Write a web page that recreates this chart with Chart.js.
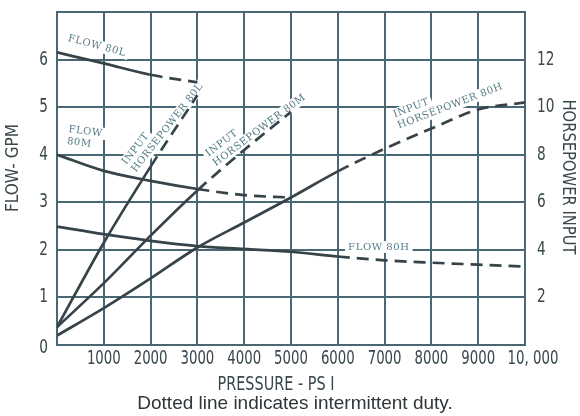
<!DOCTYPE html>
<html>
<head>
<meta charset="utf-8">
<script src="https://cdn.jsdelivr.net/npm/chart.js@4.4.0/dist/chart.umd.min.js"></script>
<style>
html, body { margin: 0; padding: 0; background: #fff; }
#wrap { width: 580px; height: 416px; }
</style>
</head>
<body>
<div id="wrap"><canvas id="myChart" width="580" height="416"></canvas></div>
<script>
// pressure steps (psi) shared by every curve
const psi = [0, 1000, 2000, 3000, 4000, 5000, 6000, 7000, 8000, 9000, 10000];

// flow, gpm (left axis)
const flow80L = [6.15, 5.92, 5.68, 5.52];
const flow80M = [4.0, 3.66, 3.45, 3.28, 3.15, 3.1];
const flow80H = [2.49, 2.33, 2.19, 2.08, 2.02, 1.96, 1.86, 1.78, 1.73, 1.69, 1.65];

// input horsepower (right axis)
const hp80L = [0.75, 4.3, 7.5, 10.5];
const hp80M = [0.75, 2.6, 4.6, 6.5, 8.2, 9.8];
const hp80H = [0.4, 1.55, 2.8, 4.1, 5.15, 6.2, 7.3, 8.25, 9.1, 9.9, 10.2];

// pressure where each curve turns from solid to dashed (intermittent duty)
const solidTo = { flow80L: 2000, flow80M: 3000, flow80H: 6000, hp80L: 2000, hp80M: 3000, hp80H: 6000 };

const flowTicks = [0, 1, 2, 3, 4, 5, 6];
const hpTicks = [2, 4, 6, 8, 10, 12];

const lineColor = '#36444a',
    gridColor = '#4a6874',
    textColor = '#3a474d',
    noteColor = '#557b88',
    tickFace = "'DejaVu Sans', sans-serif";

const toPoints = ys => ys.map((y, i) => ({ x: psi[i], y: y }))

const makeSet = (key, ys, axis) => ({
    label: key,
    data: toPoints(ys),
    yAxisID: axis,
    borderColor: lineColor,
    borderWidth: 2.7,
    pointRadius: 0,
    fill: false,
    cubicInterpolationMode: 'monotone',
    segment: {
        borderDash: c => c.p0.parsed.x >= solidTo[key] ? [12, 7] : undefined
    }
})

// in-plot curve names, anchored in data units (psi, gpm) at the start of the last line
const notes = [
    { lines: ['FLOW 80L'], x: 240, y: 6.45, rot: 15 },
    { lines: ['FLOW', '80M'], x: 214, y: 4.28, rot: 7 },
    { lines: ['INPUT', 'HORSEPOWER 80L'], x: 1640, y: 3.66, rot: -52 },
    { lines: ['INPUT', 'HORSEPOWER 80M'], x: 3360, y: 3.8, rot: -37 },
    { lines: ['INPUT', 'HORSEPOWER 80H'], x: 7290, y: 4.6, rot: -21 },
    { lines: ['FLOW 80H'], x: 6220, y: 2.06, rot: 0 }
];

function noteFrame(chart, n, cb) {
    const ctx = chart.ctx,
        px = chart.scales.x.getPixelForValue(n.x),
        py = chart.scales.y.getPixelForValue(n.y);
    ctx.save();
    ctx.translate(px, py);
    ctx.rotate(n.rot * Math.PI / 180);
    ctx.font = "10px 'DejaVu Serif', serif";
    ctx.letterSpacing = '0.6px';
    ctx.textAlign = 'left';
    ctx.textBaseline = 'middle';
    cb(ctx);
    ctx.restore();
}

// squeezed text, the print uses a condensed face
function narrowText(ctx, t, x, y, squeeze) {
    ctx.save();
    ctx.translate(x, y);
    ctx.scale(squeeze, 1);
    ctx.fillText(t, 0, 0);
    ctx.restore();
}

const notePlugin = {
    id: 'notes',
    beforeDatasetsDraw(chart) {
        for (const n of notes) {
            noteFrame(chart, n, ctx => {
                ctx.fillStyle = '#fff';
                n.lines.forEach((t, i) => {
                    const w = ctx.measureText(t).width,
                        yy = -(n.lines.length - 1 - i) * 12;
                    ctx.fillRect(-3, yy - 6, w + 6, 12);
                });
            });
        }
    },
    afterDatasetsDraw(chart) {
        for (const n of notes) {
            noteFrame(chart, n, ctx => {
                ctx.fillStyle = noteColor;
                n.lines.forEach((t, i) => {
                    ctx.fillText(t, 0, -(n.lines.length - 1 - i) * 12);
                });
            });
        }
    },
    afterDraw(chart) {
        const ctx = chart.ctx,
            { x, y, y1 } = chart.scales;
        ctx.save();
        ctx.fillStyle = textColor;
        ctx.textBaseline = 'middle';
        ctx.font = "19px " + tickFace;

        // tick labels, drawn here so they can be squeezed
        ctx.textAlign = 'center';
        x.ticks.forEach(t => {
            if (t.value === 0) return;
            const last = t.value === 10000,
                lab = last ? '10, 000' : String(t.value);
            narrowText(ctx, lab, x.getPixelForValue(t.value) + (last ? 8 : 0), 359, 0.7);
        });
        ctx.textAlign = 'right';
        flowTicks.forEach(v => narrowText(ctx, String(v), 48, y.getPixelForValue(v) + (v === 0 ? 3 : 0), 0.72));
        ctx.textAlign = 'left';
        hpTicks.forEach(v => narrowText(ctx, String(v), 537, y1.getPixelForValue(v), 0.72));

        ctx.textAlign = 'center';
        narrowText(ctx, 'PRESSURE - PS I', 276, 385, 0.76);

        ctx.font = "18px " + tickFace;
        ctx.save();
        ctx.translate(13, 168);
        ctx.rotate(-Math.PI / 2);
        narrowText(ctx, 'FLOW- GPM', 0, 0, 0.85);
        ctx.restore();

        ctx.save();
        ctx.translate(568, 177);
        ctx.rotate(Math.PI / 2);
        narrowText(ctx, 'HORSEPOWER INPUT', 0, 0, 0.82);
        ctx.restore();

        ctx.fillStyle = '#2f3538';
        ctx.font = "19px 'Liberation Sans', Arial, sans-serif";
        ctx.fillText('Dotted line indicates intermittent duty.', 295, 404);
        ctx.restore();
    }
}

const myChart = new Chart(document.getElementById('myChart').getContext('2d'), {
    type: 'line',
    data: {
        datasets: [
            makeSet('flow80L', flow80L, 'y'),
            makeSet('flow80M', flow80M, 'y'),
            makeSet('flow80H', flow80H, 'y'),
            makeSet('hp80L', hp80L, 'y1'),
            makeSet('hp80M', hp80M, 'y1'),
            makeSet('hp80H', hp80H, 'y1')
        ]
    },
    options: {
        responsive: false,
        animation: false,
        layout: { padding: { top: 12, left: 0, right: 0, bottom: 0 } },
        plugins: { legend: { display: false }, tooltip: { enabled: false } },
        scales: {
            x: {
                type: 'linear',
                min: 0,
                max: 10000,
                afterFit: s => { s.height = 71 },
                ticks: { stepSize: 1000, autoSkip: false, maxRotation: 0, display: false },
                grid: { color: gridColor, lineWidth: 2, drawTicks: false },
                border: { color: gridColor, width: 2 }
            },
            y: {
                min: 0,
                max: 7,
                afterFit: s => { s.width = 57 },
                ticks: { stepSize: 1, display: false },
                grid: { color: gridColor, lineWidth: 2, drawTicks: false },
                border: { color: gridColor, width: 2 }
            },
            y1: {
                position: 'right',
                min: 0,
                max: 14,
                afterFit: s => { s.width = 55 },
                ticks: { stepSize: 2, display: false },
                grid: { display: false, drawTicks: false },
                border: { color: gridColor, width: 2 }
            }
        }
    },
    plugins: [notePlugin]
});
</script>
</body>
</html>
